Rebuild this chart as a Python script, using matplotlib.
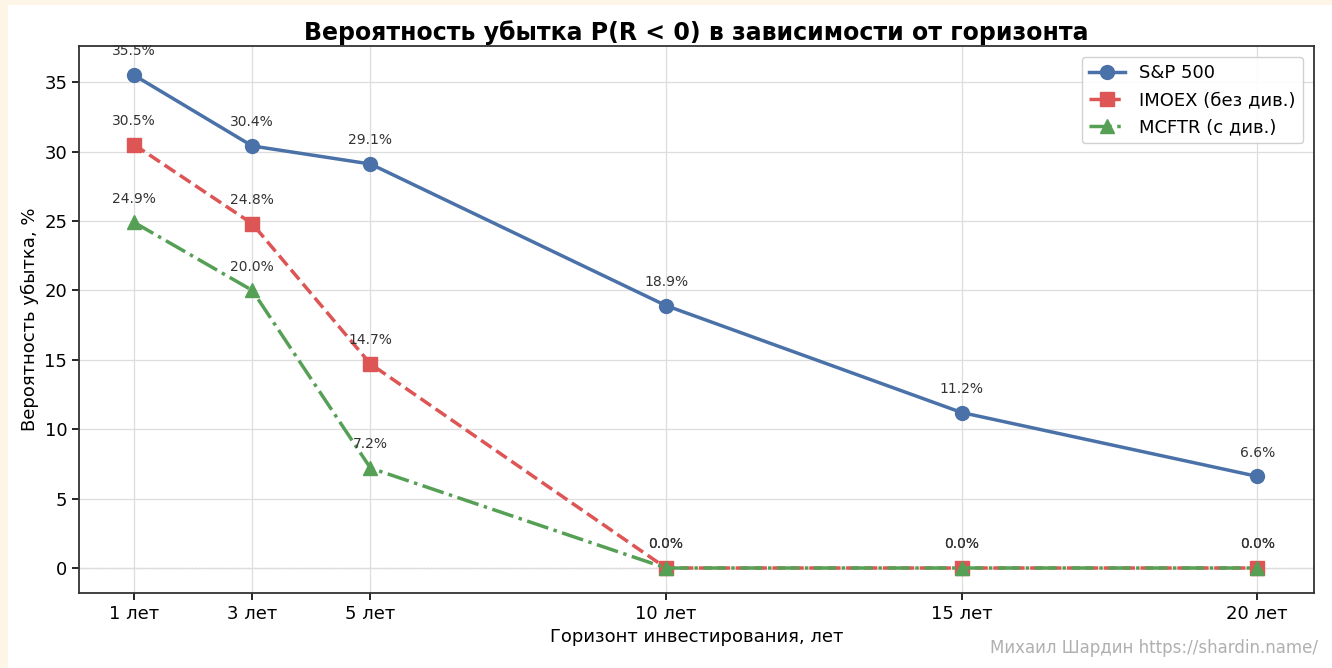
import numpy as np
import matplotlib.pyplot as plt
from matplotlib.patches import Rectangle

# Горизонты инвестирования и вероятности убытка
horizons = [1, 3, 5, 10, 15, 20]
tick_labels = ['1 лет', '3 лет', '5 лет', '10 лет', '15 лет', '20 лет']
sp500 = [35.5, 30.4, 29.1, 18.9, 11.2, 6.6]
imoex = [30.5, 24.8, 14.7, 0.0, 0.0, 0.0]
mcftr = [24.9, 20.0, 7.2, 0.0, 0.0, 0.0]

fig = plt.figure(figsize=(13.32, 6.68), dpi=100)
fig.patch.set_facecolor('white')
# кремовая рамка скриншота слева и сверху
fig.patches.append(Rectangle((0, 0), 8 / 1332, 1, transform=fig.transFigure,
                             facecolor='#fdf5e6', edgecolor='none', zorder=-1))
fig.patches.append(Rectangle((0, 1 - 5 / 668), 1, 5 / 668, transform=fig.transFigure,
                             facecolor='#fdf5e6', edgecolor='none', zorder=-1))

ax = fig.add_axes([79 / 1332, 1 - 593 / 668, (1314 - 79) / 1332, (593 - 46) / 668])

ax.plot(horizons, sp500, '-o', color='#4A72A8', lw=2.5, ms=10, label='S&P 500')
ax.plot(horizons, imoex, '--s', color='#DD5555', lw=2.5, ms=10, label='IMOEX (без див.)')
ax.plot(horizons, mcftr, '-.^', color='#55A055', lw=2.5, ms=10, label='MCFTR (с див.)')

for series in (sp500, imoex, mcftr):
    for x, y in zip(horizons, series):
        ax.annotate(f'{y:.1f}%', (x, y), xytext=(0, 12), textcoords='offset points',
                    ha='center', va='bottom', fontsize=10, color='#333333')

ax.axhline(0, color='#999999', lw=0.9, ls=':', zorder=0)

ax.set_xlim(0.07, 20.96)
ax.set_ylim(-1.8, 37.6)
ax.set_xticks(horizons)
ax.set_xticklabels(tick_labels, fontsize=13)
ax.set_yticks([0, 5, 10, 15, 20, 25, 30, 35])
ax.tick_params(axis='y', labelsize=13)
ax.tick_params(length=5, width=1.2)
ax.grid(True, color='#dddddd', lw=0.9)
ax.set_axisbelow(True)
for s in ax.spines.values():
    s.set_color('#333333')
    s.set_linewidth(1.3)

ax.set_xlabel('Горизонт инвестирования, лет', fontsize=13)
ax.set_ylabel('Вероятность убытка, %', fontsize=13)
ax.set_title('Вероятность убытка P(R < 0) в зависимости от горизонта',
             fontsize=17, fontweight='bold', pad=4)
ax.legend(loc='upper right', fontsize=13, framealpha=0.9, borderaxespad=0.6)

fig.text(1318 / 1332, 1 - 648 / 668, 'Михаил Шардин https://shardin.name/',
         ha='right', va='center', fontsize=12, color='#b0b0b0')

plt.savefig('out.png', dpi=100)
